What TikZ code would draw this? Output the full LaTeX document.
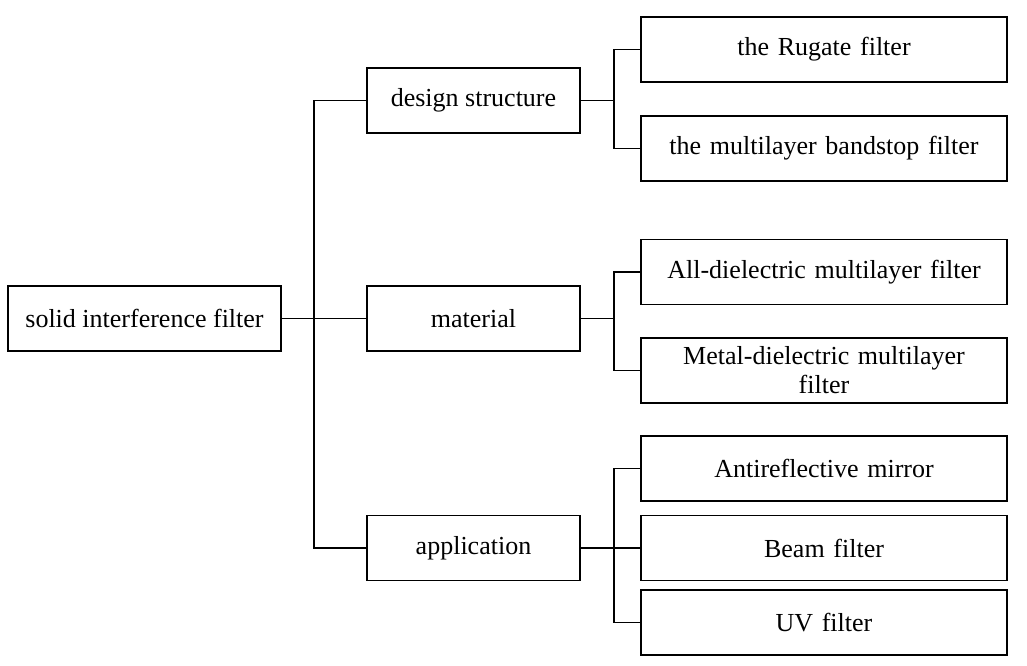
\documentclass[tikz,border=0pt]{standalone}
\usepackage{fontspec}
\setmainfont{Liberation Serif}
\begin{document}
\begin{tikzpicture}[x=1pt,y=-1pt,
  box/.style={draw,line width=1.2pt,minimum height=65pt,inner sep=2pt,align=center,font=\fontsize{26}{29}\selectfont},
  mid/.style={box,minimum width=213pt},
  leaf/.style={box,minimum width=366pt,text width=350pt},
  ln/.style={line width=1.2pt}]
\useasboundingbox (0,0) rectangle (1027,665);
\node[box,minimum width=273pt] (root) at (144.5,318.5) {solid interference filter};
\node[mid] (ds) at (473.5,100.5) {design structure};
\node[mid] (ma) at (473.5,318.5) {material};
\node[mid] (ap) at (473.5,548) {application};
\node[leaf] (l1) at (824,49.5) {the Rugate filter};
\node[leaf] (l2) at (824,148.5) {the multilayer bandstop filter};
\node[leaf] (l3) at (824,272) {All-dielectric multilayer filter};
\node[leaf] (l4) at (824,370.5) {Metal-dielectric multilayer\\filter};
\node[leaf] (l5) at (824,468.5) {Antireflective mirror};
\node[leaf] (l6) at (824,548) {Beam filter};
\node[leaf] (l7) at (824,622.5) {UV filter};
\coordinate (s0) at (314,0);
\coordinate (s1) at (614,0);
\draw[ln] (root.east) -- (ma.west);
\draw[ln] (ds.west) -| (s0|-ap.west) -- (ap.west);
\draw[ln] (ds.east) -- (s1|-ds.east);
\draw[ln] (l1.west) -| (s1|-l2.west) -- (l2.west);
\draw[ln] (ma.east) -- (s1|-ma.east);
\draw[ln] (l3.west) -| (s1|-l4.west) -- (l4.west);
\draw[ln] (ap.east) -- (l6.west);
\draw[ln] (l5.west) -| (s1|-l7.west) -- (l7.west);
\end{tikzpicture}
\end{document}
